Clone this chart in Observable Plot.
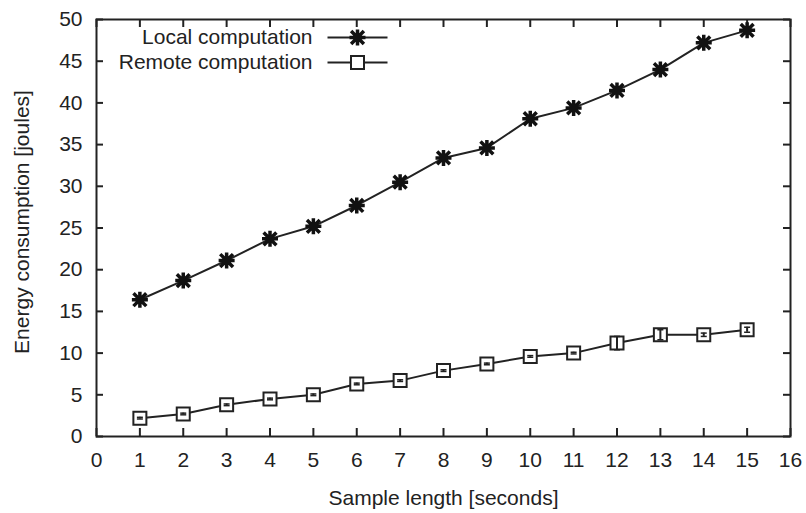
<!DOCTYPE html>
<html><head><meta charset="utf-8">
<script src="https://cdn.jsdelivr.net/npm/d3@7"></script>
<script src="https://cdn.jsdelivr.net/npm/@observablehq/plot@0.6"></script>
<style>body{margin:0;background:#fff}#chart svg{display:block}</style>
</head><body><div id="chart"></div>
<script>
const sampleLength = [1,2,3,4,5,6,7,8,9,10,11,12,13,14,15];
const localEnergy = [16.4,18.7,21.1,23.7,25.2,27.7,30.5,33.4,34.6,38.1,39.4,41.5,44.0,47.2,48.7];
const remoteEnergy = [2.2,2.7,3.8,4.5,5.0,6.3,6.7,7.9,8.7,9.6,10.0,11.2,12.2,12.2,12.8];
const remoteError = [0.1,0.1,0.1,0.1,0.1,0.1,0.1,0.1,0.1,0.1,0.1,0.8,0.6,0.2,0.3];
const xTicks = [0,1,2,3,4,5,6,7,8,9,10,11,12,13,14,15,16];
const yTicks = [0,5,10,15,20,25,30,35,40,45,50];
const seriesNames = ["Local computation","Remote computation"];
const xTitle = "Sample length [seconds]";
const yTitle = "Energy consumption [joules]";

const localData = sampleLength.map((x,i)=>({x, y: localEnergy[i]}));
const remoteData = sampleLength.map((x,i)=>({x, y: remoteEnergy[i], lo: remoteEnergy[i]-remoteError[i], hi: remoteEnergy[i]+remoteError[i]}));

const W = 806, H = 513, mL = 96, mR = 16, mT = 19, mB = 77;
const frameW = W - mL - mR, frameH = H - mT - mB;
const ink = "#222";
const fs = 21;
const starSymbol = {draw(ctx, size){const r=Math.sqrt(size/Math.PI); const d=r*0.8;
  ctx.moveTo(-r,0);ctx.lineTo(r,0);ctx.moveTo(0,-r);ctx.lineTo(0,r);
  ctx.moveTo(-d,-d);ctx.lineTo(d,d);ctx.moveTo(-d,d);ctx.lineTo(d,-d);}};
const squareSymbol = {draw(ctx, size){const r=Math.sqrt(size/Math.PI); ctx.rect(-r,-r,2*r,2*r);}};
const capSymbol = {draw(ctx, size){const r=Math.sqrt(size/Math.PI); ctx.moveTo(-r,0);ctx.lineTo(r,0);}};
const legendLineFull = {draw(ctx){ctx.moveTo(-30,0);ctx.lineTo(30,0);}};
const legendLineGap = {draw(ctx){ctx.moveTo(-30,0);ctx.lineTo(-7,0);ctx.moveTo(7,0);ctx.lineTo(30,0);}};

const chart = Plot.plot({
  width: W, height: H,
  marginLeft: mL, marginRight: mR, marginTop: mT, marginBottom: mB,
  style: {fontFamily: "'Liberation Sans', Arial, sans-serif", fontSize: fs + "px", color: ink, background: "#fff"},
  x: {domain: [0,16]},
  y: {domain: [0,50]},
  marks: [
    // inward tick marks on all four sides
    Plot.ruleX(xTicks, {x: d => d, insetTop: frameH - 8, stroke: ink, strokeWidth: 2}),
    Plot.ruleX(xTicks, {x: d => d, insetBottom: frameH - 8, stroke: ink, strokeWidth: 2}),
    Plot.ruleY(yTicks, {y: d => d, insetRight: frameW - 7, stroke: ink, strokeWidth: 2}),
    Plot.ruleY(yTicks, {y: d => d, insetLeft: frameW - 7, stroke: ink, strokeWidth: 2}),
    Plot.axisX({ticks: xTicks, tickSize: 0, tickPadding: 16, fontSize: fs, fill: ink, label: null}),
    Plot.axisY({ticks: yTicks, tickSize: 0, tickPadding: 14, fontSize: fs, fill: ink, label: null}),
    Plot.text([xTitle], {frameAnchor: "bottom", lineAnchor: "middle", textAnchor: "middle", dy: 62, text: d => d, fontSize: fs, fill: ink}),
    Plot.text([yTitle], {frameAnchor: "left", lineAnchor: "middle", textAnchor: "middle", rotate: -90, dx: -74, dy: -6, text: d => d, fontSize: fs, fill: ink}),
    Plot.frame({stroke: ink, strokeWidth: 2}),
    Plot.line(localData, {x: "x", y: "y", stroke: ink, strokeWidth: 2}),
    Plot.line(remoteData, {x: "x", y: "y", stroke: ink, strokeWidth: 2}),
    Plot.dot(remoteData, {x: "x", y: "y", symbol: squareSymbol, r: 6.5, fill: "#fff", stroke: ink, strokeWidth: 2}),
    Plot.ruleX(remoteData, {x: "x", y1: "lo", y2: "hi", stroke: ink, strokeWidth: 2}),
    Plot.dot(remoteData, {x: "x", y: "lo", symbol: capSymbol, r: 3, stroke: ink, strokeWidth: 1.5}),
    Plot.dot(remoteData, {x: "x", y: "hi", symbol: capSymbol, r: 3, stroke: ink, strokeWidth: 1.5}),
    Plot.dot(localData, {x: "x", y: "y", symbol: starSymbol, r: 8, stroke: "#111", strokeWidth: 3.5}),
    // legend
    Plot.text([seriesNames[0]], {frameAnchor: "top-left", lineAnchor: "middle", dx: 216, dy: 18, text: d => d, textAnchor: "end", fontSize: fs, fill: ink}),
    Plot.text([seriesNames[1]], {frameAnchor: "top-left", lineAnchor: "middle", dx: 216, dy: 43, text: d => d, textAnchor: "end", fontSize: fs, fill: ink}),
    Plot.dot([seriesNames[0]], {frameAnchor: "top-left", dx: 261, dy: 18, symbol: legendLineFull, stroke: ink, strokeWidth: 2}),
    Plot.dot([seriesNames[0]], {frameAnchor: "top-left", dx: 261, dy: 18, symbol: starSymbol, r: 8, stroke: "#111", strokeWidth: 3.5}),
    Plot.dot([seriesNames[1]], {frameAnchor: "top-left", dx: 261, dy: 43, symbol: legendLineGap, stroke: ink, strokeWidth: 2}),
    Plot.dot([seriesNames[1]], {frameAnchor: "top-left", dx: 261, dy: 43, symbol: squareSymbol, r: 6.5, fill: "#fff", stroke: ink, strokeWidth: 2})
  ]
});
document.getElementById("chart").appendChild(chart);
</script>
</body></html>
